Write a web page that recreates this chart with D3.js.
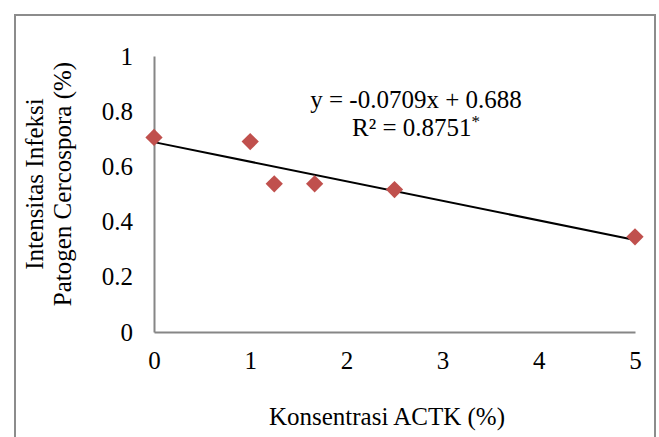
<!DOCTYPE html>
<html>
<head>
<meta charset="utf-8">
<script src="https://cdn.jsdelivr.net/npm/d3@7/dist/d3.min.js"></script>
<style>
  body { margin: 0; background: #fff; }
  svg text { font-family: "Liberation Serif", "Times New Roman", serif; fill: #000; }
</style>
</head>
<body>
<div id="container"></div>
<script>
// konsentrasi ACTK (%) vs intensitas infeksi
const concentrations = [0, 1, 1.25, 1.67, 2.5, 5];
const infection = [0.705, 0.69, 0.537, 0.537, 0.516, 0.345];
const xTicks = [0, 1, 2, 3, 4, 5];
const yTicks = [0, 0.2, 0.4, 0.6, 0.8, 1];
const slope = -0.0709;
const intercept = 0.688;

const width = 659;
const height = 437;
const fontSize = '25px';

const svg = d3.select('#container').append('svg')
  .attr('width', width)
  .attr('height', height);

svg.append('rect')
  .attr('width', width)
  .attr('height', height)
  .attr('fill', '#fff');

// outer frame (bottom edge is cut off in the original)
svg.append('path')
  .attr('d', `M15,${height + 5} L15,15 L655,15 L655,${height + 5}`)
  .attr('fill', 'none')
  .attr('stroke', '#8c8c8c')
  .attr('stroke-width', 2);

const xScale = d3.scaleLinear()
  .domain([0, 5])
  .range([154, 635]);

const yScale = d3.scaleLinear()
  .domain([0, 1])
  .range([332, 56]);

const fmt = (d) => d3.format('~g')(d);

// y axis
const yAxis = svg.append('g')
  .attr('transform', `translate(${xScale(0)},0)`)
  .call(d3.axisLeft(yScale).tickValues(yTicks).tickSize(0).tickPadding(21).tickFormat(fmt));
yAxis.select('.domain').attr('stroke', '#868686').attr('stroke-width', 2);
yAxis.selectAll('text')
  .style('font-size', fontSize)
  .style('font-family', '"Liberation Serif", serif');

// x axis
const xAxis = svg.append('g')
  .attr('transform', `translate(0,${yScale(0)})`)
  .call(d3.axisBottom(xScale).tickValues(xTicks).tickSize(0).tickPadding(19).tickFormat(fmt));
xAxis.select('.domain').attr('stroke', '#868686').attr('stroke-width', 2);
xAxis.selectAll('text')
  .style('font-size', fontSize)
  .style('font-family', '"Liberation Serif", serif');

// trendline
svg.append('line')
  .attr('x1', xScale(0))
  .attr('y1', yScale(intercept))
  .attr('x2', xScale(5))
  .attr('y2', yScale(intercept + slope * 5))
  .attr('stroke', '#000')
  .attr('stroke-width', 2);

// diamonds
svg.selectAll('.pt')
  .data(concentrations.map((c, i) => ({ x: c, y: infection[i] })))
  .enter()
  .append('path')
  .attr('class', 'pt')
  .attr('d', d3.symbol().type(d3.symbolDiamond2).size(190))
  .attr('transform', (d) => `translate(${xScale(d.x)},${yScale(d.y)})`)
  .attr('fill', '#c0504d');

// equation
svg.append('text')
  .attr('x', 416)
  .attr('y', 108)
  .attr('text-anchor', 'middle')
  .style('font-size', fontSize)
  .text('y = -0.0709x + 0.688');

const r2 = svg.append('text')
  .attr('x', 416)
  .attr('y', 136)
  .attr('text-anchor', 'middle')
  .style('font-size', fontSize);
r2.append('tspan').text('R² = 0.8751');
r2.append('tspan').attr('dy', -9).style('font-size', '17px').text('*');

// axis titles
svg.append('text')
  .attr('x', 387)
  .attr('y', 425)
  .attr('text-anchor', 'middle')
  .style('font-size', fontSize)
  .text('Konsentrasi ACTK (%)');

const yTitle = svg.append('text')
  .attr('transform', 'translate(43,184) rotate(-90)')
  .attr('text-anchor', 'middle')
  .style('font-size', fontSize);
yTitle.append('tspan').attr('x', 0).attr('y', 0).text('Intensitas Infeksi');
yTitle.append('tspan').attr('x', 0).attr('y', 28).text('Patogen Cercospora (%)');
</script>
</body>
</html>
